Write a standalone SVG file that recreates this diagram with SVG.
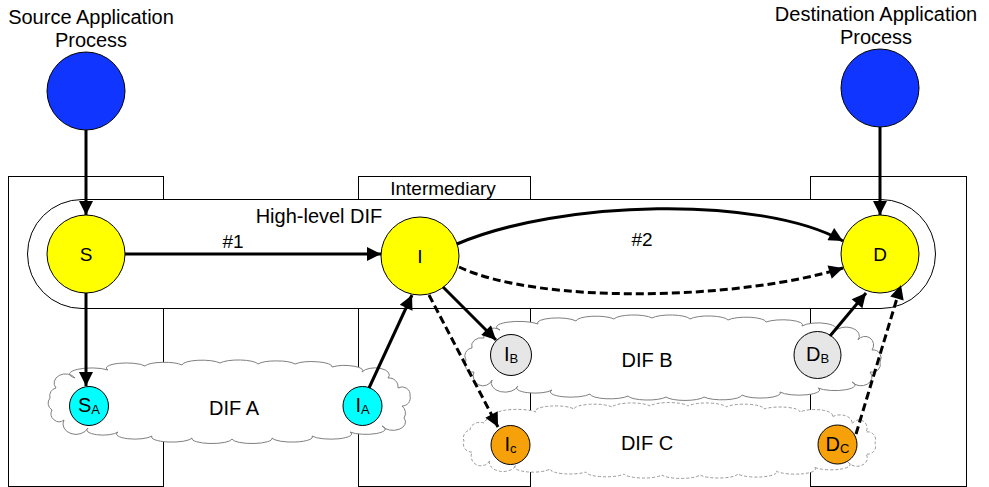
<svg xmlns="http://www.w3.org/2000/svg" width="989" height="487" viewBox="0 0 989 487">
  <style>
    text { font-family: "Liberation Sans", Arial, sans-serif; fill: #000; text-anchor: middle; }
    .t20 { font-size: 20px; }
    .t19 { font-size: 19px; }
    .sub { font-size: 13px; }
    .box { fill: #fff; stroke: #000; stroke-width: 1; }
    .hl { fill: #fff; stroke: #000; stroke-width: 1; }
    .cloud { fill: #fff; stroke: #808080; stroke-width: 1; }
    .cloud-dash { fill: #fff; stroke: #999; stroke-width: 1; stroke-dasharray: 3 2; }
    .node { stroke: #000; stroke-width: 1; }
    .app { fill: #1035ff; }
    .yellow { fill: #ffff00; }
    .cyan { fill: #00ffff; }
    .grey { fill: #e6e6e6; }
    .orange { fill: #f7a10a; }
    .arrow { fill: none; stroke: #000; stroke-width: 3; marker-end: url(#head); }
    .dash { stroke-dasharray: 8 4; }
  </style>
  <defs>
    <marker id="head" viewBox="0 0 10 10" refX="10" refY="5" markerWidth="17" markerHeight="14" markerUnits="userSpaceOnUse" orient="auto">
      <path d="M0,0 L10,5 L0,10 z" fill="#000"/>
    </marker>
  </defs>

  <!-- system boxes -->
  <g id="systems">
    <rect class="box" x="8.5" y="176.5" width="155" height="310"/>
    <rect class="box" x="358.5" y="176.5" width="172" height="310"/>
    <rect class="box" x="810.5" y="176.5" width="156" height="310"/>
    <text class="t19" x="443" y="194.5">Intermediary</text>
  </g>

  <!-- high-level DIF band -->
  <g id="high-level-dif">
    <rect class="hl" x="27.5" y="199.5" width="908" height="109" rx="54.5" ry="54.5"/>
    <text class="t20" x="319" y="223">High-level DIF</text>
  </g>

  <!-- lower DIFs -->
  <g id="dif-a">
    <path class="cloud" d="M75,378 A18 5 0 0 1 108,370 A20 5 0 0 1 145,366 A20 5 0 0 1 182,365 A20 5 0 0 1 220,363 A20 5 0 0 1 258,364 A20 5 0 0 1 295,364 A20 5 0 0 1 332,367 A18 5 0 0 1 362,372 A14 7 0 0 1 388,378 A9 9 0 0 1 398,388 A8 8 0 0 1 410,396 A8 8 0 0 1 402,406 A9 9 0 0 1 404,418 A12 8 0 0 1 382,426 A18 5 0 0 1 350,432 A20 5 0 0 1 312,436 A20 5 0 0 1 272,438 A20 5 0 0 1 232,439 A20 5 0 0 1 192,438 A20 5 0 0 1 152,436 A18 5 0 0 1 118,432 A16 5 0 0 1 88,428 A10 8 0 0 1 64,420 A8 8 0 0 1 52,410 A8 8 0 0 1 50,398 A8 8 0 0 1 56,388 A10 8 0 0 1 75,378 Z"/>
    <text class="t20" x="234" y="415">DIF A</text>
  </g>
  <g id="dif-b">
    <path class="cloud" d="M500,330 A20 5 0 0 1 538,324 A20 5 0 0 1 576,321 A20 5 0 0 1 614,319 A20 5 0 0 1 652,318 A20 5 0 0 1 690,319 A20 5 0 0 1 728,320 A20 5 0 0 1 766,322 A20 5 0 0 1 802,326 A18 6 0 0 1 834,332 A12 8 0 0 1 858,340 A8 8 0 0 1 872,350 A8 8 0 0 1 880,362 A8 8 0 0 1 870,372 A10 8 0 0 1 852,382 A18 5 0 0 1 818,388 A20 5 0 0 1 780,392 A20 5 0 0 1 742,395 A20 5 0 0 1 704,397 A20 5 0 0 1 666,397 A20 5 0 0 1 628,396 A20 5 0 0 1 590,394 A20 5 0 0 1 552,390 A18 5 0 0 1 518,386 A12 8 0 0 1 492,380 A8 8 0 0 1 474,372 A8 8 0 0 1 466,360 A8 8 0 0 1 472,348 A10 8 0 0 1 484,338 A10 8 0 0 1 500,330 Z"/>
    <text class="t20" x="647" y="367">DIF B</text>
  </g>
  <g id="dif-c">
    <path class="cloud-dash" d="M498,418 A20 5 0 0 1 536,412 A20 5 0 0 1 574,409 A20 5 0 0 1 612,407 A20 5 0 0 1 650,406 A20 5 0 0 1 688,406 A20 5 0 0 1 726,407 A20 5 0 0 1 764,409 A20 5 0 0 1 800,412 A18 6 0 0 1 832,417 A12 8 0 0 1 852,424 A8 8 0 0 1 866,432 A8 8 0 0 1 875,443 A8 8 0 0 1 866,454 A10 8 0 0 1 848,462 A18 5 0 0 1 814,467 A20 5 0 0 1 776,471 A20 5 0 0 1 738,474 A20 5 0 0 1 700,475 A20 5 0 0 1 662,475 A20 5 0 0 1 624,474 A20 5 0 0 1 586,472 A20 5 0 0 1 550,469 A18 5 0 0 1 516,465 A12 8 0 0 1 490,460 A8 8 0 0 1 472,452 A8 8 0 0 1 464,441 A8 8 0 0 1 470,430 A10 8 0 0 1 484,423 A10 8 0 0 1 498,418 Z"/>
    <text class="t20" x="647" y="450">DIF C</text>
  </g>

  <!-- application processes -->
  <g id="source-app">
    <text class="t20" x="91" y="24">Source Application</text>
    <text class="t20" x="91" y="47">Process</text>
    <circle class="node app" cx="86" cy="91" r="39"/>
  </g>
  <g id="dest-app">
    <text class="t20" x="876" y="21">Destination Application</text>
    <text class="t20" x="876" y="44">Process</text>
    <circle class="node app" cx="880" cy="88" r="39"/>
  </g>

  <!-- high-level DIF members -->
  <g id="node-s">
    <circle class="node yellow" cx="86" cy="254" r="39"/>
    <text class="t19" x="86" y="261">S</text>
  </g>
  <g id="node-i">
    <circle class="node yellow" cx="420" cy="256" r="39"/>
    <text class="t19" x="420" y="263">I</text>
  </g>
  <g id="node-d">
    <circle class="node yellow" cx="880" cy="254" r="39"/>
    <text class="t19" x="880" y="261">D</text>
  </g>

  <!-- lower DIF members -->
  <g id="node-sa">
    <circle class="node cyan" cx="89" cy="406" r="19.5"/>
    <text class="t20" x="89" y="412">S<tspan class="sub" dy="2">A</tspan></text>
  </g>
  <g id="node-ia">
    <circle class="node cyan" cx="362.5" cy="406" r="19.5"/>
    <text class="t20" x="362.5" y="412">I<tspan class="sub" dy="2">A</tspan></text>
  </g>
  <g id="node-ib">
    <circle class="node grey" cx="511" cy="355" r="20.5"/>
    <text class="t20" x="511" y="361">I<tspan class="sub" dy="2">B</tspan></text>
  </g>
  <g id="node-db">
    <circle class="node grey" cx="817.5" cy="355" r="23.5"/>
    <text class="t20" x="817.5" y="361">D<tspan class="sub" dy="2">B</tspan></text>
  </g>
  <g id="node-ic">
    <circle class="node orange" cx="510.5" cy="445" r="19.5"/>
    <text class="t20" x="510.5" y="451">I<tspan class="sub" dy="2">c</tspan></text>
  </g>
  <g id="node-dc">
    <circle class="node orange" cx="837.5" cy="444.5" r="19.5"/>
    <text class="t20" x="837.5" y="450.5">D<tspan class="sub" dy="2">C</tspan></text>
  </g>

  <!-- flows -->
  <g id="connectors">
    <path class="arrow" d="M86,130 L86,215"/>
    <path class="arrow" d="M880,127 L880,215"/>
    <path class="arrow" d="M125,254 L381,254"/>
    <path class="arrow" d="M457,244 C560,200 760,195 843,241"/>
    <path class="arrow dash" d="M459,267 C540,305 740,300 843,268"/>
    <path class="arrow" d="M86,293 L86,386"/>
    <path class="arrow" d="M369,388 L412,295"/>
    <path class="arrow" d="M443,287 L496,340"/>
    <path class="arrow dash" d="M429,295 L498,427"/>
    <path class="arrow" d="M830,336 L866,293"/>
    <path class="arrow dash" d="M856,434 L901,285"/>
    <text class="t19" x="233" y="248">#1</text>
    <text class="t19" x="642" y="246">#2</text>
  </g>
</svg>
